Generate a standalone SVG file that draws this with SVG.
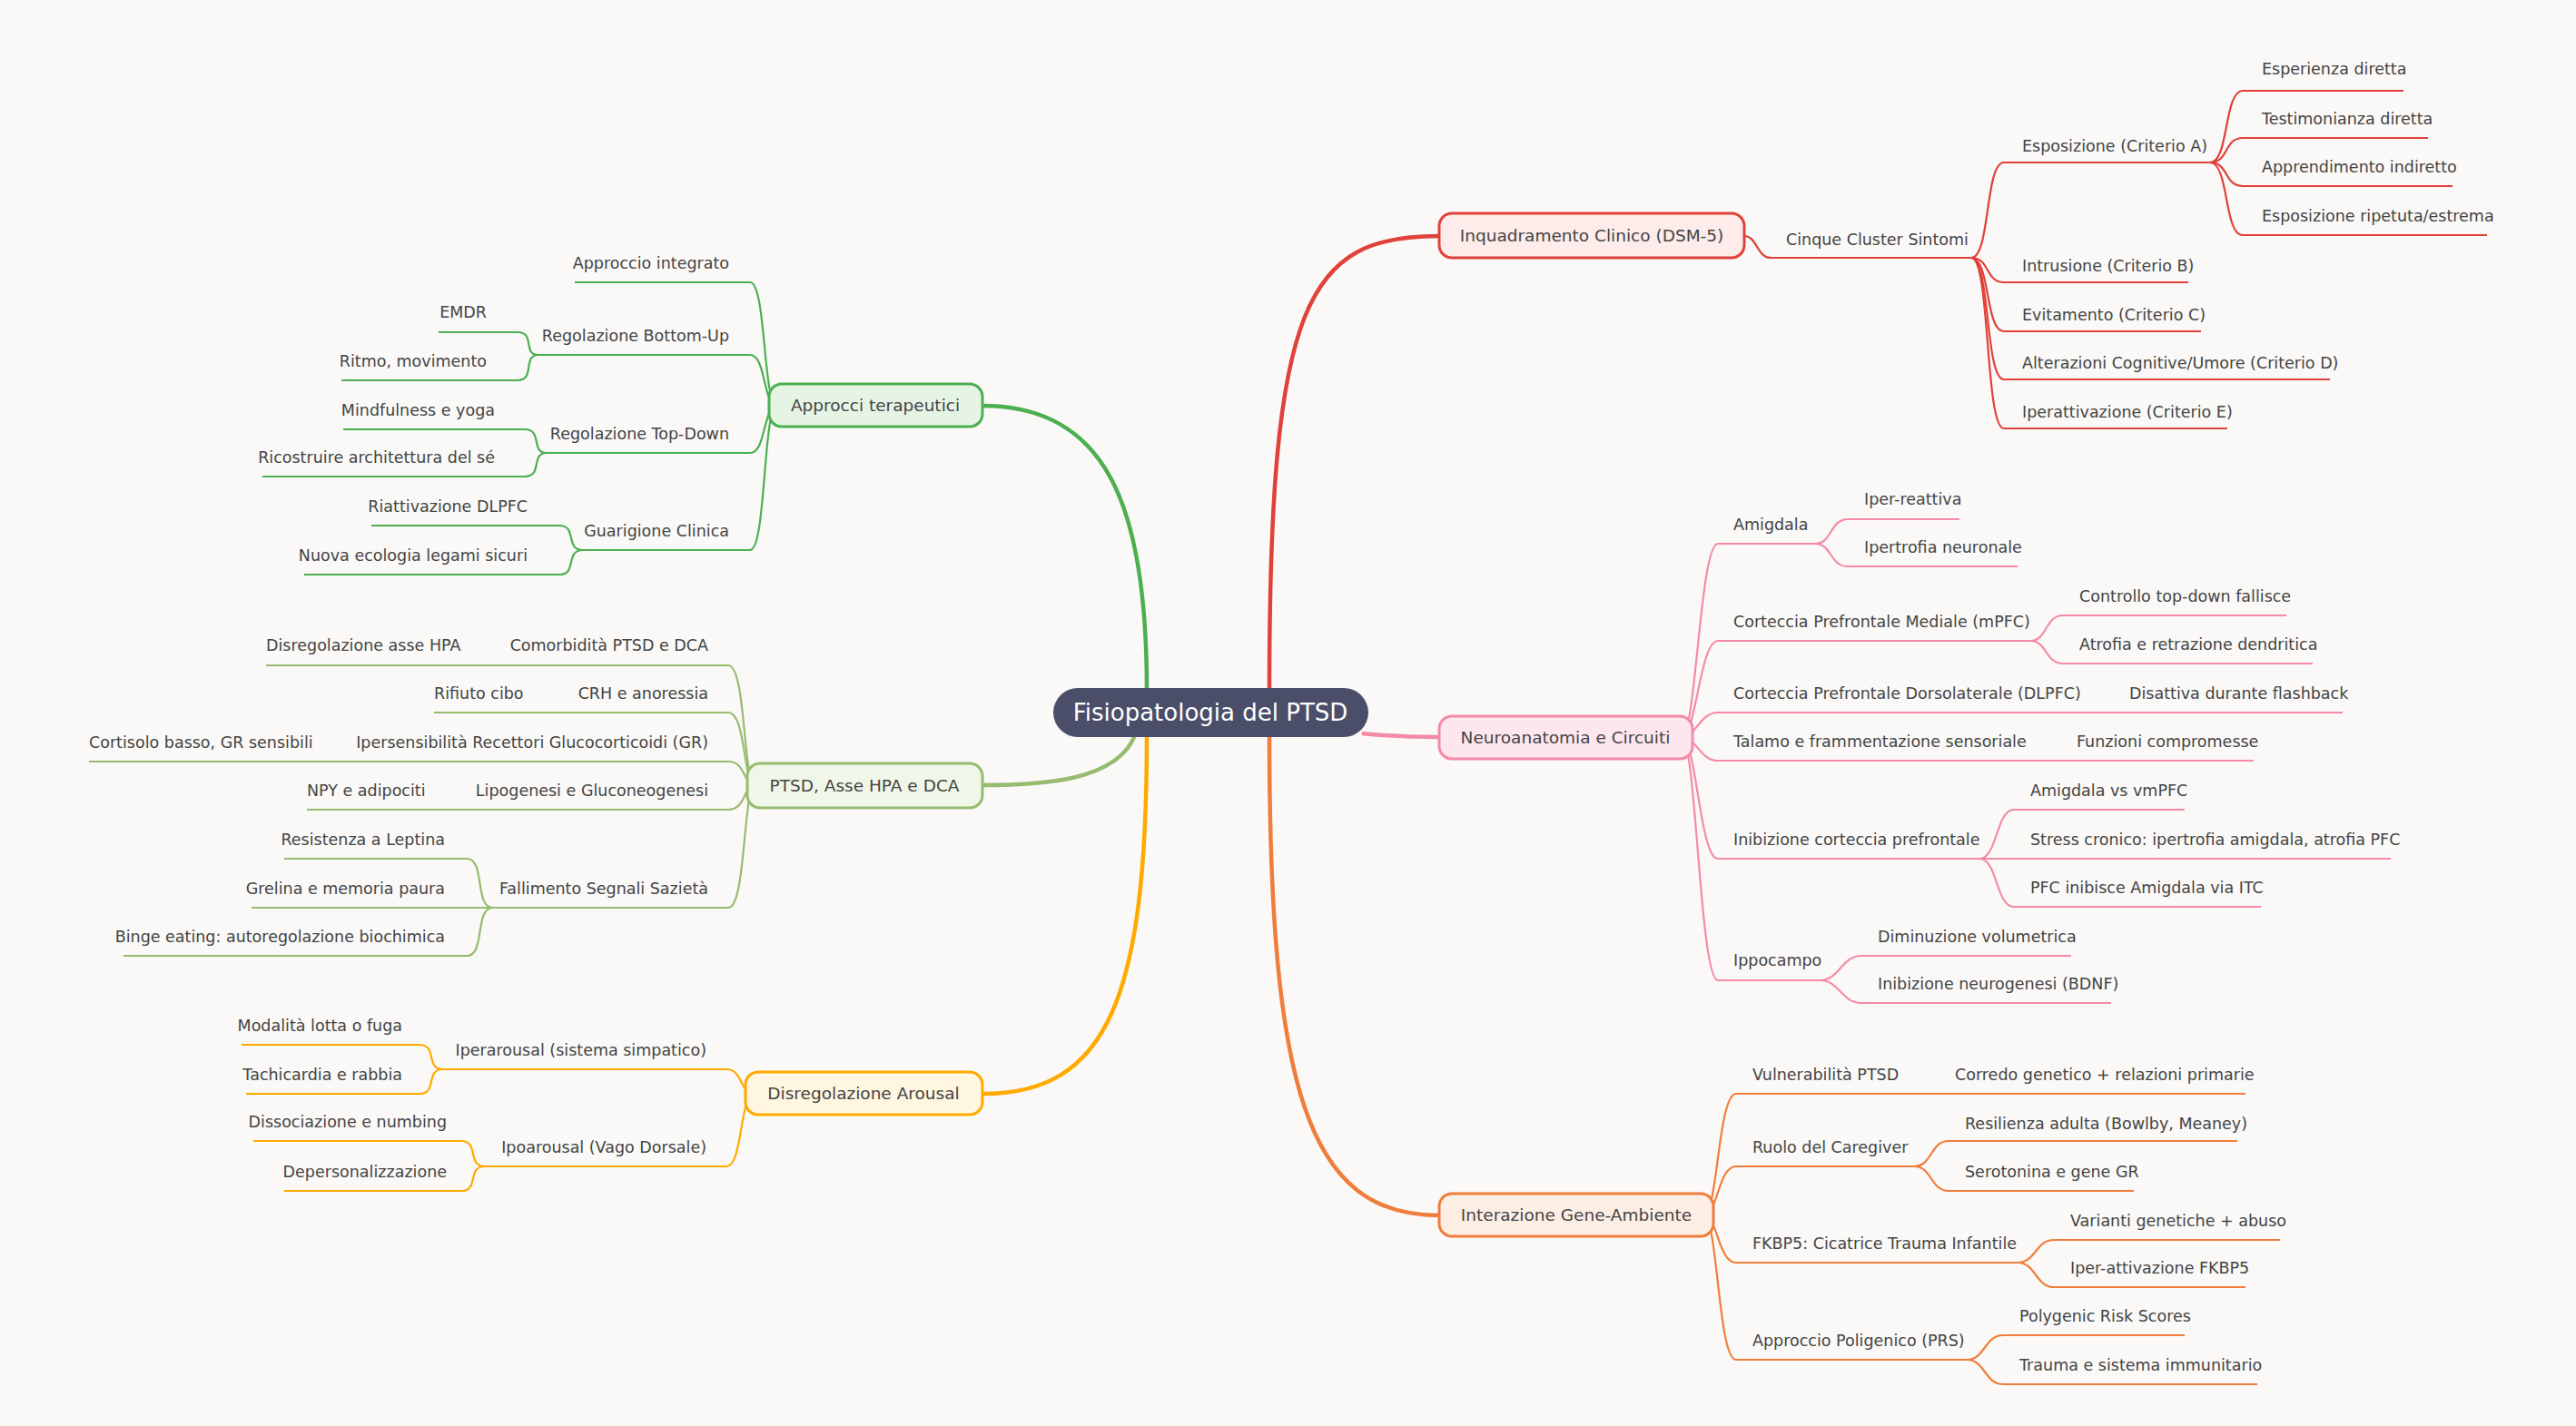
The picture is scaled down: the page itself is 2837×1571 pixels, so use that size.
<svg xmlns="http://www.w3.org/2000/svg" width="2837" height="1571" viewBox="0 0 2837 1571">
<style>
text{font-family:"DejaVu Sans","Noto Sans",sans-serif;fill:#444;font-size:17.5px}
.e{text-anchor:end}
.n{font-size:18.5px;text-anchor:middle}
path{fill:none}
.r{stroke:#e0413a}.p{stroke:#f48aa8}.o{stroke:#f07d3c}.g{stroke:#4caf50}.l{stroke:#97bb6f}.y{stroke:#ffaa00}
.s path{stroke-width:2.2}
.m{stroke-width:4.5}
</style>
<rect width="2837" height="1571" fill="#faf9f7"/>
<g id="connectors">
<path class="m r" d="M1398 760 C1398 330,1440 260,1585 260"/>
<path class="m g" d="M1263 760 C1263 560,1220 447,1082 447"/>
<path class="m p" d="M1500 808 C1540 812,1560 812,1585 812"/>
<path class="m l" d="M1250 810 C1230 860,1150 865,1082 865"/>
<path class="m o" d="M1398 810 C1398 1200,1440 1339,1585 1339"/>
<path class="m y" d="M1263 810 C1263 1100,1220 1205,1082 1205"/>
<g class="s">
<g class="r">
<path d="M1921 260 C1935 260,1935 284,1950 284 H2171"/>
<path d="M2171 284 C2192 284,2186 179,2207 179 H2434"/>
<path d="M2171 284 C2192 284,2186 311,2207 311 H2410"/>
<path d="M2171 284 C2192 284,2186 365,2207 365 H2424"/>
<path d="M2171 284 C2192 284,2186 418,2207 418 H2566"/>
<path d="M2171 284 C2192 284,2186 472,2207 472 H2453"/>
<path d="M2434 179 C2455 179,2449 100,2470 100 H2647"/>
<path d="M2434 179 C2455 179,2449 152,2470 152 H2674"/>
<path d="M2434 179 C2455 179,2449 205,2470 205 H2701"/>
<path d="M2434 179 C2455 179,2449 259,2470 259 H2739"/>
</g>
<g class="p">
<path d="M1852 812 C1868 812,1872 599,1892 599 H1999"/>
<path d="M1852 812 C1868 812,1872 706,1892 706 H2236"/>
<path d="M1852 812 C1868 812,1872 785,1892 785 H2580"/>
<path d="M1852 812 C1868 812,1872 838,1892 838 H2482"/>
<path d="M1852 812 C1868 812,1872 946,1892 946 H2180"/>
<path d="M1852 812 C1868 812,1872 1080,1892 1080 H2004"/>
<path d="M1999 599 C2018 599,2015 572,2035 572 H2158"/>
<path d="M1999 599 C2018 599,2015 624,2035 624 H2222"/>
<path d="M2236 706 C2255 706,2252 678,2272 678 H2518"/>
<path d="M2236 706 C2255 706,2252 731,2272 731 H2547"/>
<path d="M2180 946 C2200 946,2198 892,2218 892 H2406"/>
<path d="M2180 946 H2633"/>
<path d="M2180 946 C2200 946,2198 999,2218 999 H2490"/>
<path d="M2004 1080 C2026 1080,2028 1053,2050 1053 H2281"/>
<path d="M2004 1080 C2026 1080,2028 1105,2050 1105 H2325"/>
</g>
<g class="o">
<path d="M1876 1339 C1892 1339,1892 1205,1912 1205 H2473"/>
<path d="M1876 1339 C1892 1339,1892 1285,1912 1285 H2108"/>
<path d="M1876 1339 C1892 1339,1892 1391,1912 1391 H2222"/>
<path d="M1876 1339 C1892 1339,1892 1498,1912 1498 H2166"/>
<path d="M2108 1285 C2128 1285,2126 1257,2146 1257 H2464"/>
<path d="M2108 1285 C2128 1285,2126 1312,2146 1312 H2350"/>
<path d="M2222 1391 C2242 1391,2242 1366,2262 1366 H2511"/>
<path d="M2222 1391 C2242 1391,2242 1418,2262 1418 H2473"/>
<path d="M2166 1498 C2186 1498,2186 1471,2206 1471 H2406"/>
<path d="M2166 1498 C2186 1498,2186 1525,2206 1525 H2486"/>
</g>
<g class="g">
<path d="M856 447 C840 447,844 311,826 311 H633"/>
<path d="M856 447 C840 447,844 391,826 391 H593"/>
<path d="M856 447 C840 447,844 499,826 499 H602"/>
<path d="M856 447 C840 447,844 606,826 606 H642"/>
<path d="M593 391 C575 391,590 366,570 366 H483"/>
<path d="M593 391 C575 391,590 419,570 419 H376"/>
<path d="M602 499 C584 499,598 473,578 473 H378"/>
<path d="M602 499 C584 499,598 525,578 525 H289"/>
<path d="M642 606 C622 606,636 579,616 579 H409"/>
<path d="M642 606 C622 606,636 633,616 633 H335"/>
</g>
<g class="l">
<path d="M832 865 C818 865,822 733,802 733 H293"/>
<path d="M832 865 C818 865,822 785,802 785 H478"/>
<path d="M832 865 C818 865,822 839,802 839 H98"/>
<path d="M832 865 C818 865,822 892,802 892 H338"/>
<path d="M832 865 C818 865,822 1000,802 1000 H543"/>
<path d="M543 1000 C522 1000,535 946,514 946 H313"/>
<path d="M543 1000 H277"/>
<path d="M543 1000 C522 1000,535 1053,514 1053 H136"/>
</g>
<g class="y">
<path d="M830 1205 C815 1205,818 1178,800 1178 H488"/>
<path d="M830 1205 C815 1205,818 1285,800 1285 H534"/>
<path d="M488 1178 C468 1178,482 1151,462 1151 H266"/>
<path d="M488 1178 C468 1178,482 1205,462 1205 H271"/>
<path d="M534 1285 C514 1285,528 1257,508 1257 H279"/>
<path d="M534 1285 C514 1285,528 1312,508 1312 H313"/>
</g>
</g>
</g>
<g id="center"><rect x="1160" y="758" width="347" height="54" rx="27" fill="#4a4e69"/><text x="1333" y="794" class="n" style="fill:#fff;font-size:26px">Fisiopatologia del PTSD</text></g>
<g id="n-inq"><rect x="1585" y="235" width="336" height="49" rx="14" fill="#fdecea" stroke="#e0413a" stroke-width="3"/><text x="1753" y="266" class="n">Inquadramento Clinico (DSM-5)</text></g>
<g id="n-neuro"><rect x="1585" y="789" width="279" height="47" rx="14" fill="#fde6ee" stroke="#f48aa8" stroke-width="3"/><text x="1724" y="819" class="n">Neuroanatomia e Circuiti</text></g>
<g id="n-gene"><rect x="1585" y="1315" width="302" height="47" rx="14" fill="#fdeee4" stroke="#f07d3c" stroke-width="3"/><text x="1736" y="1345" class="n">Interazione Gene-Ambiente</text></g>
<g id="n-appr"><rect x="847" y="423" width="235" height="47" rx="14" fill="#e6f4e6" stroke="#4caf50" stroke-width="3"/><text x="964" y="453" class="n">Approcci terapeutici</text></g>
<g id="n-hpa"><rect x="823" y="841" width="259" height="49" rx="14" fill="#f0f7e8" stroke="#97bb6f" stroke-width="3"/><text x="952" y="872" class="n">PTSD, Asse HPA e DCA</text></g>
<g id="n-arousal"><rect x="821" y="1181" width="261" height="47" rx="14" fill="#fff6e0" stroke="#ffaa00" stroke-width="3"/><text x="951" y="1211" class="n">Disregolazione Arousal</text></g>
<g id="leaves">
<text x="1967" y="270">Cinque Cluster Sintomi</text>
<text x="2227" y="167">Esposizione (Criterio A)</text>
<text x="2227" y="299">Intrusione (Criterio B)</text>
<text x="2227" y="353">Evitamento (Criterio C)</text>
<text x="2227" y="406">Alterazioni Cognitive/Umore (Criterio D)</text>
<text x="2227" y="460">Iperattivazione (Criterio E)</text>
<text x="2491" y="82">Esperienza diretta</text>
<text x="2491" y="137">Testimonianza diretta</text>
<text x="2491" y="190">Apprendimento indiretto</text>
<text x="2491" y="244">Esposizione ripetuta/estrema</text>
<text x="1909" y="584">Amigdala</text>
<text x="1909" y="691">Corteccia Prefrontale Mediale (mPFC)</text>
<text x="1909" y="770">Corteccia Prefrontale Dorsolaterale (DLPFC)</text>
<text x="1909" y="823">Talamo e frammentazione sensoriale</text>
<text x="1909" y="931">Inibizione corteccia prefrontale</text>
<text x="1909" y="1064">Ippocampo</text>
<text x="2053" y="556">Iper-reattiva</text>
<text x="2053" y="609">Ipertrofia neuronale</text>
<text x="2290" y="663">Controllo top-down fallisce</text>
<text x="2290" y="716">Atrofia e retrazione dendritica</text>
<text x="2345" y="770">Disattiva durante flashback</text>
<text x="2287" y="823">Funzioni compromesse</text>
<text x="2236" y="877">Amigdala vs vmPFC</text>
<text x="2236" y="931">Stress cronico: ipertrofia amigdala, atrofia PFC</text>
<text x="2236" y="984">PFC inibisce Amigdala via ITC</text>
<text x="2068" y="1038">Diminuzione volumetrica</text>
<text x="2068" y="1090">Inibizione neurogenesi (BDNF)</text>
<text x="1930" y="1190">Vulnerabilità PTSD</text>
<text x="1930" y="1270">Ruolo del Caregiver</text>
<text x="1930" y="1376">FKBP5: Cicatrice Trauma Infantile</text>
<text x="1930" y="1483">Approccio Poligenico (PRS)</text>
<text x="2153" y="1190">Corredo genetico + relazioni primarie</text>
<text x="2164" y="1244">Resilienza adulta (Bowlby, Meaney)</text>
<text x="2164" y="1297">Serotonina e gene GR</text>
<text x="2280" y="1351">Varianti genetiche + abuso</text>
<text x="2280" y="1403">Iper-attivazione FKBP5</text>
<text x="2224" y="1456">Polygenic Risk Scores</text>
<text x="2224" y="1510">Trauma e sistema immunitario</text>
<text x="803" y="296" class="e">Approccio integrato</text>
<text x="803" y="376" class="e">Regolazione Bottom-Up</text>
<text x="803" y="484" class="e">Regolazione Top-Down</text>
<text x="803" y="591" class="e">Guarigione Clinica</text>
<text x="536" y="350" class="e">EMDR</text>
<text x="536" y="404" class="e">Ritmo, movimento</text>
<text x="545" y="458" class="e">Mindfulness e yoga</text>
<text x="545" y="510" class="e">Ricostruire architettura del sé</text>
<text x="581" y="564" class="e">Riattivazione DLPFC</text>
<text x="581" y="618" class="e">Nuova ecologia legami sicuri</text>
<text x="780" y="717" class="e">Comorbidità PTSD e DCA</text>
<text x="780" y="770" class="e">CRH e anoressia</text>
<text x="780" y="824" class="e">Ipersensibilità Recettori Glucocorticoidi (GR)</text>
<text x="780" y="877" class="e">Lipogenesi e Gluconeogenesi</text>
<text x="780" y="985" class="e">Fallimento Segnali Sazietà</text>
<text x="293" y="717">Disregolazione asse HPA</text>
<text x="478" y="770">Rifiuto cibo</text>
<text x="98" y="824">Cortisolo basso, GR sensibili</text>
<text x="338" y="877">NPY e adipociti</text>
<text x="490" y="931" class="e">Resistenza a Leptina</text>
<text x="490" y="985" class="e">Grelina e memoria paura</text>
<text x="490" y="1038" class="e">Binge eating: autoregolazione biochimica</text>
<text x="778" y="1163" class="e">Iperarousal (sistema simpatico)</text>
<text x="778" y="1270" class="e">Ipoarousal (Vago Dorsale)</text>
<text x="443" y="1136" class="e">Modalità lotta o fuga</text>
<text x="443" y="1190" class="e">Tachicardia e rabbia</text>
<text x="492" y="1242" class="e">Dissociazione e numbing</text>
<text x="492" y="1297" class="e">Depersonalizzazione</text>
</g>
</svg>
